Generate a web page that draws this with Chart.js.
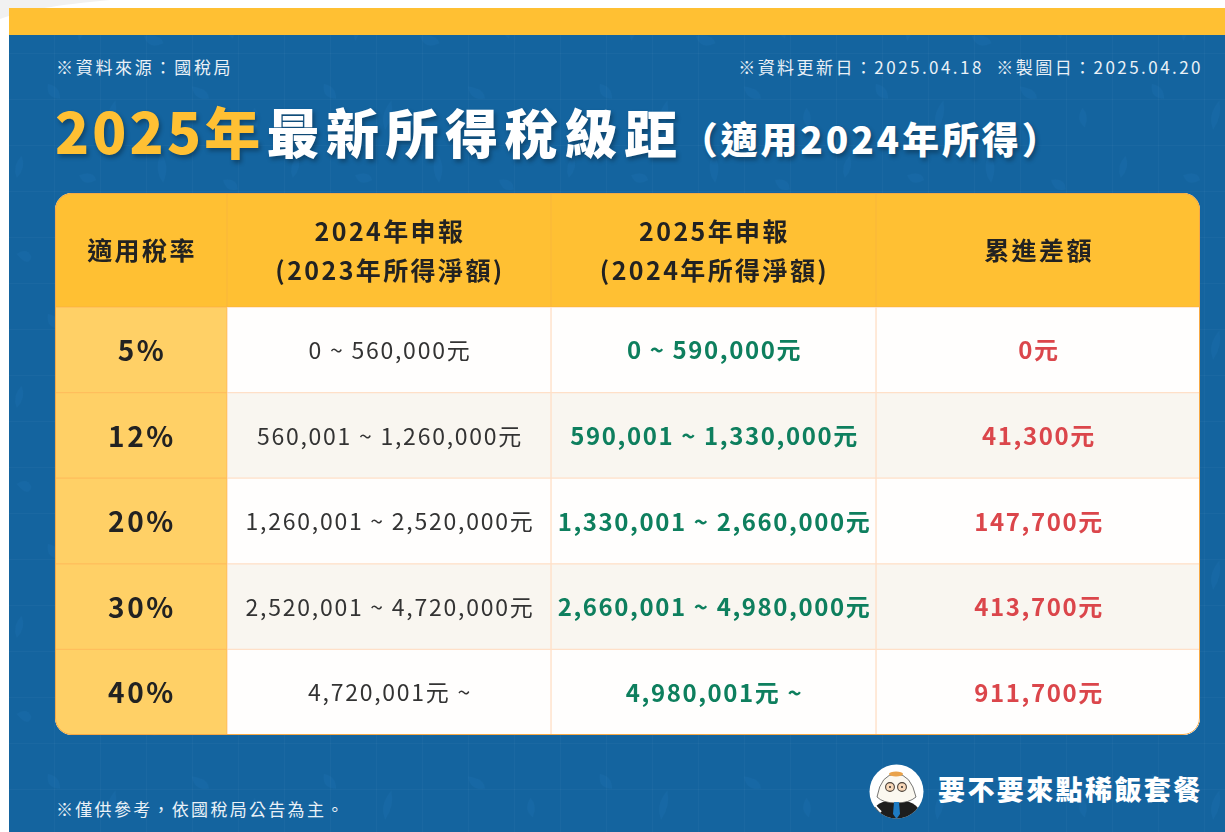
<!DOCTYPE html>
<html lang="zh-Hant">
<head>
<meta charset="utf-8">
<title>2025年最新所得稅級距</title>
<script src="https://cdn.jsdelivr.net/npm/chart.js@4"></script>
<style>
    html, body { margin: 0; padding: 0; background: #fff; }
    body { width: 1225px; height: 832px; position: relative; overflow: hidden; font-family: 'Noto Sans CJK TC', 'Noto Sans', sans-serif; }
    .band { position: absolute; left: 9px; right: 0; top: 8px; height: 27px; background: #FFC033; }
    .panel { position: absolute; left: 9px; right: 0; top: 35px; bottom: 0; background: #14649F; }
    .texture { position: absolute; left: 0; top: 0; }
    .note { position: absolute; color: #EAF1F7; font-size: 17px; line-height: 24px; letter-spacing: 2.7px; white-space: nowrap; font-weight: 400; }
    .title { position: absolute; left: 55px; top: 90px; white-space: nowrap; font-weight: 900; color: #fff; line-height: 80px; text-shadow: 2px 3px 4px rgba(0, 0, 0, 0.3); }
    .title .year { color: #FFC033; font-size: 56px; letter-spacing: 3.2px; }
    .title .main { font-size: 53px; letter-spacing: 6.6px; margin-left: 3px; }
    .title .sub { font-size: 37px; letter-spacing: 2.9px; margin-left: -3px; }
    .table { position: absolute; left: 55px; top: 193px; width: 1145px; height: 542px; border-radius: 17px; overflow: hidden; background: #fff; }
    .table::after { content: ''; position: absolute; inset: 0; border: 1.5px solid #F6A945; border-radius: 17px; pointer-events: none; }
    .table canvas { display: block; }
    .brand { position: absolute; left: 938px; top: 769px; color: #fff; font-size: 27px; font-weight: 900; letter-spacing: 2.4px; line-height: 40px; white-space: nowrap; }
    .avatar { position: absolute; left: 869px; top: 764px; }
</style>
</head>
<body>
<svg class="texture" width="1225" height="30" style="top:0"><path d="M0 19 C 30 8 70 4 110 0 L 0 0 Z" fill="#F1F1F1"/></svg>
<div class="band"></div>
<div class="panel"></div>
<svg class="texture" width="1225" height="832">
    <defs>
        <pattern id="grid" x="8" y="7" width="46" height="46" patternUnits="userSpaceOnUse">
            <path d="M0 0 H46 M0 0 V46" stroke="#FFFFFF" stroke-opacity="0.055" fill="none"/>
        </pattern>
        <pattern id="blots" width="276" height="230" patternUnits="userSpaceOnUse">
            <g fill="#1C70AE" fill-opacity="0.35" transform="scale(1.2)">
                <path d="M14 20 q8 -6 12 2 q-2 10 -12 -2z"/>
                <path d="M70 12 q3 12 -4 22 q-4 -12 4 -22z"/>
                <path d="M120 30 q14 -2 16 6 q-12 6 -16 -6z"/>
                <path d="M190 14 q8 8 4 18 q-9 -6 -4 -18z"/>
                <path d="M40 70 q10 2 10 12 q-12 0 -10 -12z"/>
                <path d="M96 84 q3 12 -5 24 q-5 -12 5 -24z"/>
                <path d="M160 72 q14 2 14 10 q-12 2 -14 -10z"/>
                <path d="M212 90 q6 6 2 16 q-8 -6 -2 -16z"/>
                <path d="M18 130 q4 10 -4 18 q-4 -10 4 -18z"/>
                <path d="M66 146 q12 -4 14 4 q-10 6 -14 -4z"/>
                <path d="M134 128 q8 10 2 24 q-8 -10 -2 -24z"/>
                <path d="M186 150 q12 -2 12 8 q-10 2 -12 -8z"/>
            </g>
        </pattern>
    </defs>
    <rect x="9" y="35" width="1216" height="797" fill="url(#blots)"/>
    <rect x="9" y="35" width="1216" height="797" fill="url(#grid)"/>
</svg>

<div class="note" style="left:56px;top:55px">※資料來源：國稅局</div>
<div class="note" style="right:22px;top:55px;letter-spacing:2.45px">※資料更新日：2025.04.18&nbsp;&nbsp;※製圖日：2025.04.20</div>
<div class="title"><span class="year">2025年</span><span class="main">最新所得稅級距</span><span class="sub">（適用2024年所得）</span></div>

<div class="table">
    <canvas id="headChart" width="1145" height="114"></canvas>
    <canvas id="bodyChart" width="1145" height="428"></canvas>
</div>

<div class="note" style="left:56px;top:797px;letter-spacing:2.3px">※僅供參考，依國稅局公告為主。</div>
<svg class="avatar" width="55" height="55" viewBox="0 0 55 55">
    <defs><clipPath id="face"><circle cx="27.5" cy="27.5" r="27"/></clipPath></defs>
    <circle cx="27.5" cy="27.5" r="27" fill="#FFFFFF"/>
    <g clip-path="url(#face)">
        <path d="M3 50 Q6 36 27 36 Q48 36 52 50 L50 56 L5 56 Z" fill="#1D1D1D"/>
        <path d="M5 40 Q8 44 12 48" stroke="#FFFFFF" stroke-width="2" fill="none"/>
        <path d="M8 33 Q12 10 27 10 Q42 10 47 33 Q40 39 27 39 Q14 39 8 33 Z" fill="#FBF8F0" stroke="#3C3C3C" stroke-width="0.7"/>
        <ellipse cx="27" cy="10" rx="7" ry="2.6" fill="#E9A24A"/>
        <circle cx="21" cy="23" r="4.4" fill="#F9D8B8" stroke="#4A4038" stroke-width="1.1"/>
        <circle cx="33" cy="23" r="4.4" fill="#F9D8B8" stroke="#4A4038" stroke-width="1.1"/>
        <circle cx="21" cy="23" r="1" fill="#2A2A2A"/>
        <circle cx="33" cy="23" r="1" fill="#2A2A2A"/>
        <path d="M25 38 H30 L31 50 L27.5 55 L24 50 Z" fill="#1E7CC4"/>
    </g>
</svg>
<div class="brand">要不要來點稀飯套餐</div>

<script>
// Table data
const columnHeaders = ['適用稅率', '2024年申報\n(2023年所得淨額)', '2025年申報\n(2024年所得淨額)', '累進差額'];
const taxRates = [5, 12, 20, 30, 40];
const lower2024 = [0, 560001, 1260001, 2520001, 4720001];
const upper2024 = [560000, 1260000, 2520000, 4720000, null];
const lower2025 = [0, 590001, 1330001, 2660001, 4980001];
const upper2025 = [590000, 1330000, 2660000, 4980000, null];
const progressiveDiff = [0, 41300, 147700, 413700, 911700];

// Column widths of the table, in pixels
const columnWidths = [172, 324, 325, 324];
const tableFont = "'Noto Sans CJK TC', 'Noto Sans', sans-serif";

function money(n) {
    return n.toLocaleString('en-US');
}

function bracket(lo, hi) {
    if (hi === null) return money(lo) + '元 ~';
    return money(lo) + ' ~ ' + money(hi) + '元';
}

const rateLabels = taxRates.map(r => r + '%');
const labels2024 = lower2024.map((lo, i) => bracket(lo, upper2024[i]));
const labels2025 = lower2025.map((lo, i) => bracket(lo, upper2025[i]));
const diffLabels = progressiveDiff.map(d => money(d) + '元');

// Centre of a column on the chart's x scale
function columnCentre(scale, col) {
    let start = 0;
    for (let i = 0; i < col; i++) start += columnWidths[i];
    return scale.getPixelForValue(start + columnWidths[col] / 2);
}

// Draws the cell text on top of the bars
const cellTextPlugin = {
    id: 'cellText',
    afterDatasetsDraw(chart, args, opts) {
        const { ctx, scales } = chart;
        ctx.save();
        ctx.textAlign = 'center';
        ctx.textBaseline = 'middle';
        opts.columns.forEach((column, col) => {
            ctx.font = column.font;
            ctx.fillStyle = column.color;
            ctx.letterSpacing = column.spacing + 'px';
            const x = columnCentre(scales.x, col) + 1;
            column.texts.forEach((text, row) => {
                const y = scales.y.getPixelForValue(row) + 0.5;
                const lines = text.split('\n');
                lines.forEach((line, n) => {
                    const offset = (n - (lines.length - 1) / 2) * 39;
                    ctx.fillText(line, x, y + offset);
                });
            });
        });
        ctx.restore();
    }
};

function initTableChart(id, rowNames, fill, border, columns) {
    return new Chart(document.getElementById(id), {
        type: 'bar',
        data: {
            labels: rowNames,
            datasets: columnWidths.map((width, col) => ({
                data: rowNames.map(() => width),
                backgroundColor: c => fill(col, c.dataIndex),
                borderColor: border(col),
                borderWidth: 1,
                borderSkipped: false,
                categoryPercentage: 1,
                barPercentage: 1
            }))
        },
        options: {
            indexAxis: 'y',
            responsive: false,
            animation: false,
            layout: { padding: 0 },
            scales: {
                x: { type: 'linear', stacked: true, display: false, min: 0, max: columnWidths.reduce((a, b) => a + b, 0) },
                y: { stacked: true, display: false }
            },
            plugins: {
                legend: { display: false },
                tooltip: { enabled: false },
                cellText: { columns: columns }
            }
        },
        plugins: [cellTextPlugin]
    });
}

initTableChart('headChart', ['header'],
    () => '#FFC033',
    () => '#FBB93A',
    columnHeaders.map(h => ({ texts: [h], font: '700 25px ' + tableFont, color: '#222222', spacing: 2.4 }))
);

initTableChart('bodyChart', rateLabels,
    (col, row) => col === 0 ? '#FFD066' : (row % 2 ? '#F9F6F0' : '#FFFEFD'),
    col => col === 0 ? '#FFBE5C' : '#FFE0C8',
    [
        { texts: rateLabels, font: '700 28px ' + tableFont, color: '#222222', spacing: 2.6 },
        { texts: labels2024, font: '400 23px ' + tableFont, color: '#333333', spacing: 1.75 },
        { texts: labels2025, font: '700 24px ' + tableFont, color: '#0E7F5E', spacing: 1.6 },
        { texts: diffLabels, font: '700 24px ' + tableFont, color: '#DB464B', spacing: 1.6 }
    ]
);
</script>
</body>
</html>
